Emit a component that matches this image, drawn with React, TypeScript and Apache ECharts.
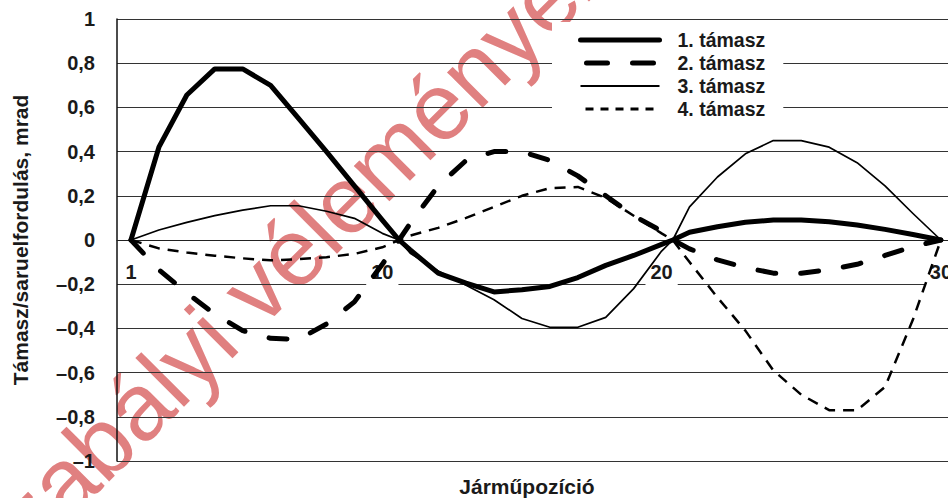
import React, { useEffect, useRef } from "react";
import * as echarts from "echarts";

// Vehicle positions (1..30) plus the two inner support points where all curves meet
const positions = [1, 2, 3, 4, 5, 6, 7, 8, 9, 10, 10.6, 11, 12, 13, 14, 15, 16, 17, 18, 19, 20, 20.4, 21, 22, 23, 24, 25, 26, 27, 28, 29, 30];

const seriesNames = ["1. támasz", "2. támasz", "3. támasz", "4. támasz"];

const support1 = [0, 0.42, 0.656, 0.774, 0.774, 0.7, 0.55, 0.4, 0.245, 0.09, 0, -0.045, -0.15, -0.195, -0.235, -0.225, -0.21, -0.17, -0.115, -0.07, -0.02, 0, 0.035, 0.06, 0.08, 0.09, 0.09, 0.083, 0.068, 0.048, 0.025, 0];
const support2 = [0, -0.135, -0.24, -0.335, -0.41, -0.445, -0.45, -0.38, -0.28, -0.11, 0, 0.075, 0.245, 0.36, 0.4, 0.4, 0.36, 0.29, 0.2, 0.11, 0.04, 0, -0.04, -0.09, -0.125, -0.15, -0.15, -0.135, -0.11, -0.07, -0.03, 0];
const support3 = [0, 0.045, 0.08, 0.11, 0.135, 0.155, 0.155, 0.13, 0.098, 0.03, 0, -0.06, -0.14, -0.205, -0.27, -0.355, -0.395, -0.395, -0.35, -0.22, -0.05, 0, 0.15, 0.285, 0.39, 0.45, 0.45, 0.42, 0.35, 0.245, 0.12, 0];
const support4 = [0, -0.038, -0.057, -0.071, -0.083, -0.092, -0.087, -0.078, -0.063, -0.033, 0, 0.02, 0.055, 0.1, 0.15, 0.2, 0.235, 0.24, 0.19, 0.11, 0.03, 0, -0.1, -0.26, -0.41, -0.59, -0.7, -0.77, -0.77, -0.665, -0.36, 0];

const xTickValues = [1, 10, 20, 30];
const yMin = -1;
const yMax = 1;
const yStep = 0.2;

const xTitle = "Járműpozíció";
const yTitle = "Támasz/saruelfordulás, mrad";
const watermark = "szabályi véleményezés";

const FONT = "'Liberation Sans', Arial, Helvetica, sans-serif";
const TEXT = "#1a1a1a";

function fmtY(v: number) {
  const r = Math.round(v * 10) / 10;
  if (r === 0) return "0";
  const s = Math.abs(r).toString().replace(".", ",");
  return r < 0 ? "\u2013" + s : s;
}

export default function App() {
  const ref = useRef<HTMLDivElement>(null);

  useEffect(() => {
    const chart = echarts.init(ref.current as HTMLDivElement, null, { renderer: "svg" });
    const toData = (vals: number[]) => positions.map((x, i) => [x, vals[i]]);

    chart.setOption({
      animation: false,
      backgroundColor: "#fff",
      textStyle: { fontFamily: FONT },
      grid: { left: 117, top: 19, right: 1, bottom: 37, containLabel: false },
      title: {
        text: xTitle,
        left: 527,
        top: 476,
        textAlign: "center",
        padding: 0,
        textStyle: { fontFamily: FONT, fontSize: 21, fontWeight: "bold", color: TEXT, lineHeight: 21 },
      },
      legend: {
        orient: "vertical",
        left: 552,
        top: 22,
        padding: [6.5, 18, 4.5, 26],
        backgroundColor: "#fff",
        itemWidth: 79,
        itemHeight: 14,
        itemGap: 0,
        selectedMode: false,
        textStyle: {
          fontFamily: FONT,
          fontSize: 19.5,
          fontWeight: "bold",
          color: TEXT,
          lineHeight: 23,
          padding: [0, 0, 0, 13],
        },
        data: [
          { name: seriesNames[0], itemStyle: { opacity: 0 }, lineStyle: { width: 5, type: "solid", cap: "round", color: "#000" } },
          { name: seriesNames[1], itemStyle: { opacity: 0 }, lineStyle: { width: 5, type: [21, 25], dashOffset: -6.5, cap: "round", color: "#000" } },
          { name: seriesNames[2], itemStyle: { opacity: 0 }, lineStyle: { width: 1.8, type: "solid", color: "#000" } },
          { name: seriesNames[3], itemStyle: { opacity: 0 }, lineStyle: { width: 3, type: [8, 7], dashOffset: -5, color: "#000" } },
        ],
      },
      xAxis: {
        type: "value",
        min: 0.5,
        max: 30.5,
        position: "bottom",
        offset: -221,
        axisLine: { show: true, onZero: false, lineStyle: { color: "#222", width: 1.2 } },
        axisTick: { show: false },
        splitLine: { show: false },
        axisLabel: {
          customValues: xTickValues,
          margin: 20,
          formatter: (v: number) => (v === 1 ? `{p|${v}}` : `{w|${v}}`),
          rich: {
            p: { fontFamily: FONT, fontSize: 20, fontWeight: "bold", color: TEXT, padding: [2, 0, 4, 0] },
            w: { fontFamily: FONT, fontSize: 20, fontWeight: "bold", color: TEXT, backgroundColor: "#fff", padding: [2, 5, 4, 5] },
          },
        },
      },
      yAxis: {
        type: "value",
        min: yMin,
        max: yMax,
        interval: yStep,
        name: yTitle,
        nameLocation: "middle",
        nameGap: 86,
        nameTextStyle: { fontFamily: FONT, fontSize: 21, fontWeight: "bold", color: TEXT },
        axisLine: { show: true, onZero: false, lineStyle: { color: "#111", width: 1.5 } },
        axisTick: { show: false },
        splitLine: { show: true, lineStyle: { color: "#333", width: 1.2 } },
        axisLabel: {
          margin: 22,
          fontFamily: FONT,
          fontSize: 20,
          fontWeight: "bold",
          color: TEXT,
          formatter: fmtY,
        },
      },
      graphic: {
        elements: [
          {
            type: "text",
            silent: true,
            z: -10,
            x: -23,
            y: 567,
            rotation: Math.PI / 4,
            style: {
              text: watermark,
              font: `normal 95px ${FONT}`,
              fill: "#e08080",
              textAlign: "left",
              textVerticalAlign: "middle",
            },
          },
        ],
      },
      series: [
        {
          name: seriesNames[0],
          type: "line",
          data: toData(support1),
          symbol: "none",
          z: 5,
          lineStyle: { color: "#000", width: 5, type: "solid", join: "round", cap: "round" },
        },
        {
          name: seriesNames[1],
          type: "line",
          data: toData(support2),
          symbol: "none",
          z: 4,
          lineStyle: { color: "#000", width: 5, type: [18, 25], join: "round", cap: "round" },
        },
        {
          name: seriesNames[2],
          type: "line",
          data: toData(support3),
          symbol: "none",
          z: 3,
          lineStyle: { color: "#000", width: 1.7, type: "solid", join: "round" },
        },
        {
          name: seriesNames[3],
          type: "line",
          data: toData(support4),
          symbol: "none",
          z: 3,
          lineStyle: { color: "#000", width: 2.5, type: [11, 8], join: "round" },
        },
      ],
    });

    return () => chart.dispose();
  }, []);

  return (
    <div style={{ position: "fixed", left: 0, top: 0, width: 948, height: 498, overflow: "hidden", background: "#fff" }}>
      <div ref={ref} style={{ width: 960, height: 498 }} />
    </div>
  );
}
